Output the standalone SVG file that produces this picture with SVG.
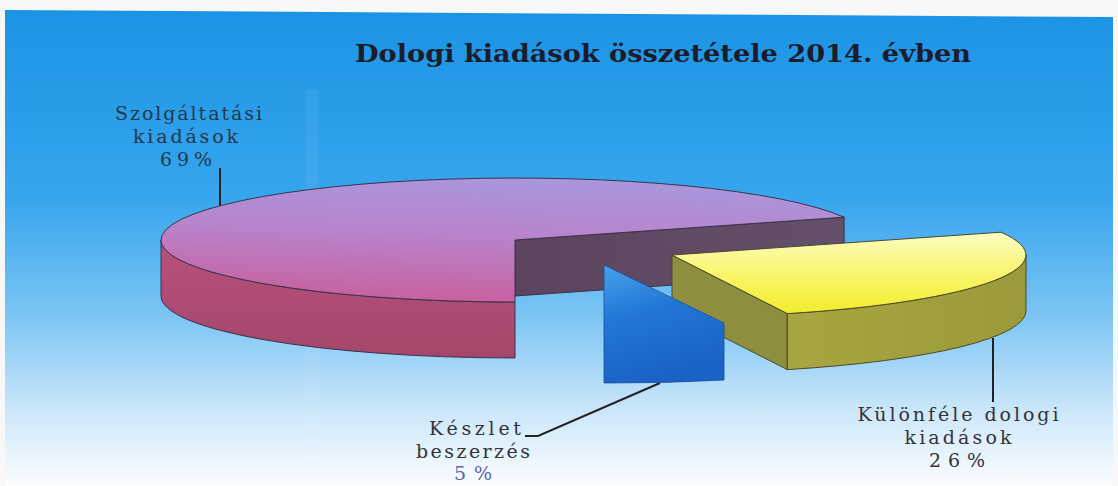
<svg xmlns="http://www.w3.org/2000/svg" width="1118" height="486" viewBox="0 0 1118 486">
<defs>
<linearGradient id="bg" x1="0" y1="10" x2="0" y2="486" gradientUnits="userSpaceOnUse">
<stop offset="0" stop-color="#1b93e4"/>
<stop offset="0.4" stop-color="#38a6ee"/>
<stop offset="0.65" stop-color="#7ec6f4"/>
<stop offset="0.85" stop-color="#cfe8fa"/>
<stop offset="1" stop-color="#fbfdff"/>
</linearGradient>
<linearGradient id="pinkTop" x1="0.55" y1="0" x2="0.35" y2="1">
<stop offset="0" stop-color="#a996dc"/>
<stop offset="0.45" stop-color="#b884cc"/>
<stop offset="1" stop-color="#c8609e"/>
</linearGradient>
<linearGradient id="pinkSide" x1="0" y1="0" x2="0" y2="1">
<stop offset="0" stop-color="#b8527e"/>
<stop offset="1" stop-color="#a4466c"/>
</linearGradient>
<linearGradient id="darkFace" x1="0" y1="0" x2="1" y2="0">
<stop offset="0" stop-color="#5c435e"/>
<stop offset="1" stop-color="#64506a"/>
</linearGradient>
<linearGradient id="blueG" x1="0" y1="0" x2="0.3" y2="1">
<stop offset="0" stop-color="#48a2ea"/>
<stop offset="0.45" stop-color="#2276d6"/>
<stop offset="1" stop-color="#1a62c6"/>
</linearGradient>
<linearGradient id="yelTop" x1="0" y1="0" x2="0" y2="1">
<stop offset="0" stop-color="#fcfcc4"/>
<stop offset="0.5" stop-color="#f9f66e"/>
<stop offset="1" stop-color="#f2ec2c"/>
</linearGradient>
<linearGradient id="yelSide" x1="0" y1="0" x2="1" y2="0">
<stop offset="0" stop-color="#a8a640"/>
<stop offset="1" stop-color="#9a9a3c"/>
</linearGradient>
<style>
.edge{stroke:#3a3448;stroke-width:1;stroke-linejoin:round}
.yedge{stroke:#4a4a2a;stroke-width:1;stroke-linejoin:round}
.lead{stroke:#222;stroke-width:2;fill:none}
.title{font-family:"DejaVu Serif","Liberation Serif",serif;font-weight:bold;font-size:24px;fill:#1c1c2c}
.lbl{font-family:"DejaVu Serif","Liberation Serif",serif;font-size:19px;text-anchor:middle}
.l1{fill:#24384a}
.l2{fill:#333338}
</style>
</defs>
<rect x="0" y="0" width="1118" height="486" fill="#f8f8f8"/>
<polygon points="5,10 1113,17 1113,486 5,486" fill="url(#bg)"/>
<rect x="305" y="90" width="14" height="396" fill="#ffffff" opacity="0.05"/>

<text class="title" x="355" y="62" textLength="616" lengthAdjust="spacingAndGlyphs">Dologi kiadások összetétele 2014. évben</text>

<g id="connectors">
<line class="lead" x1="220" y1="168" x2="220" y2="206"/>
<polyline class="lead" points="525,436 538,436 660,383"/>
<line class="lead" x1="993" y1="338" x2="993" y2="402"/>
</g>

<g id="slice-szolgaltatasi">
<path class="edge" fill="url(#darkFace)" d="M515,240 L844.1,217.2 L844.1,273.2 L515,296 Z"/>
<path class="edge" fill="url(#pinkSide)" d="M515,302 A354,62 0 0 1 161,240 L161,296 A354,62 0 0 0 515,358 Z"/>
<path class="edge" fill="url(#pinkTop)" d="M515,240 L515,302 A354,62 0 0 1 161,240 A354,62 0 0 1 844.1,217.2 Z"/>
</g>

<g id="slice-kulonfele">
<path class="yedge" fill="#8e8e3e" d="M672,255 L787.3,313.6 L787.3,369.6 L672,311 Z"/>
<path class="yedge" fill="url(#yelSide)" d="M787.3,313.6 A354,62 0 0 0 1026,255 L1026,311 A354,62 0 0 1 787.3,369.6 Z"/>
<path class="yedge" fill="url(#yelTop)" d="M672,255 L787.3,313.6 A354,62 0 0 0 1001.1,232.2 Z"/>
</g>

<g id="slice-keszlet">
<path fill="url(#blueG)" stroke="#1a4c9a" stroke-width="0.8" d="M604,265 L724,323 L724,380 A354,62 0 0 1 604,383 Z"/>
</g>

<g id="label-szolgaltatasi">
<text class="lbl l1" x="188.5" y="120" textLength="147" lengthAdjust="spacing">Szolgáltatási</text>
<text class="lbl l1" x="185.5" y="143" textLength="105" lengthAdjust="spacing">kiadások</text>
<text class="lbl l1" x="186" y="166" textLength="52" lengthAdjust="spacing">69%</text>
</g>

<g id="label-keszlet">
<text class="lbl l2" x="475" y="435" textLength="92" lengthAdjust="spacing">Készlet</text>
<text class="lbl l2" x="473" y="458" textLength="114" lengthAdjust="spacing">beszerzés</text>
<text class="lbl" fill="#5a66a8" x="473" y="480" textLength="38" lengthAdjust="spacing">5%</text>
</g>

<g id="label-kulonfele">
<text class="lbl l2" x="958" y="421" textLength="201" lengthAdjust="spacing">Különféle dologi</text>
<text class="lbl l2" x="958" y="444" textLength="107" lengthAdjust="spacing">kiadások</text>
<text class="lbl l2" x="957" y="467" textLength="56" lengthAdjust="spacing">26%</text>
</g>
</svg>
